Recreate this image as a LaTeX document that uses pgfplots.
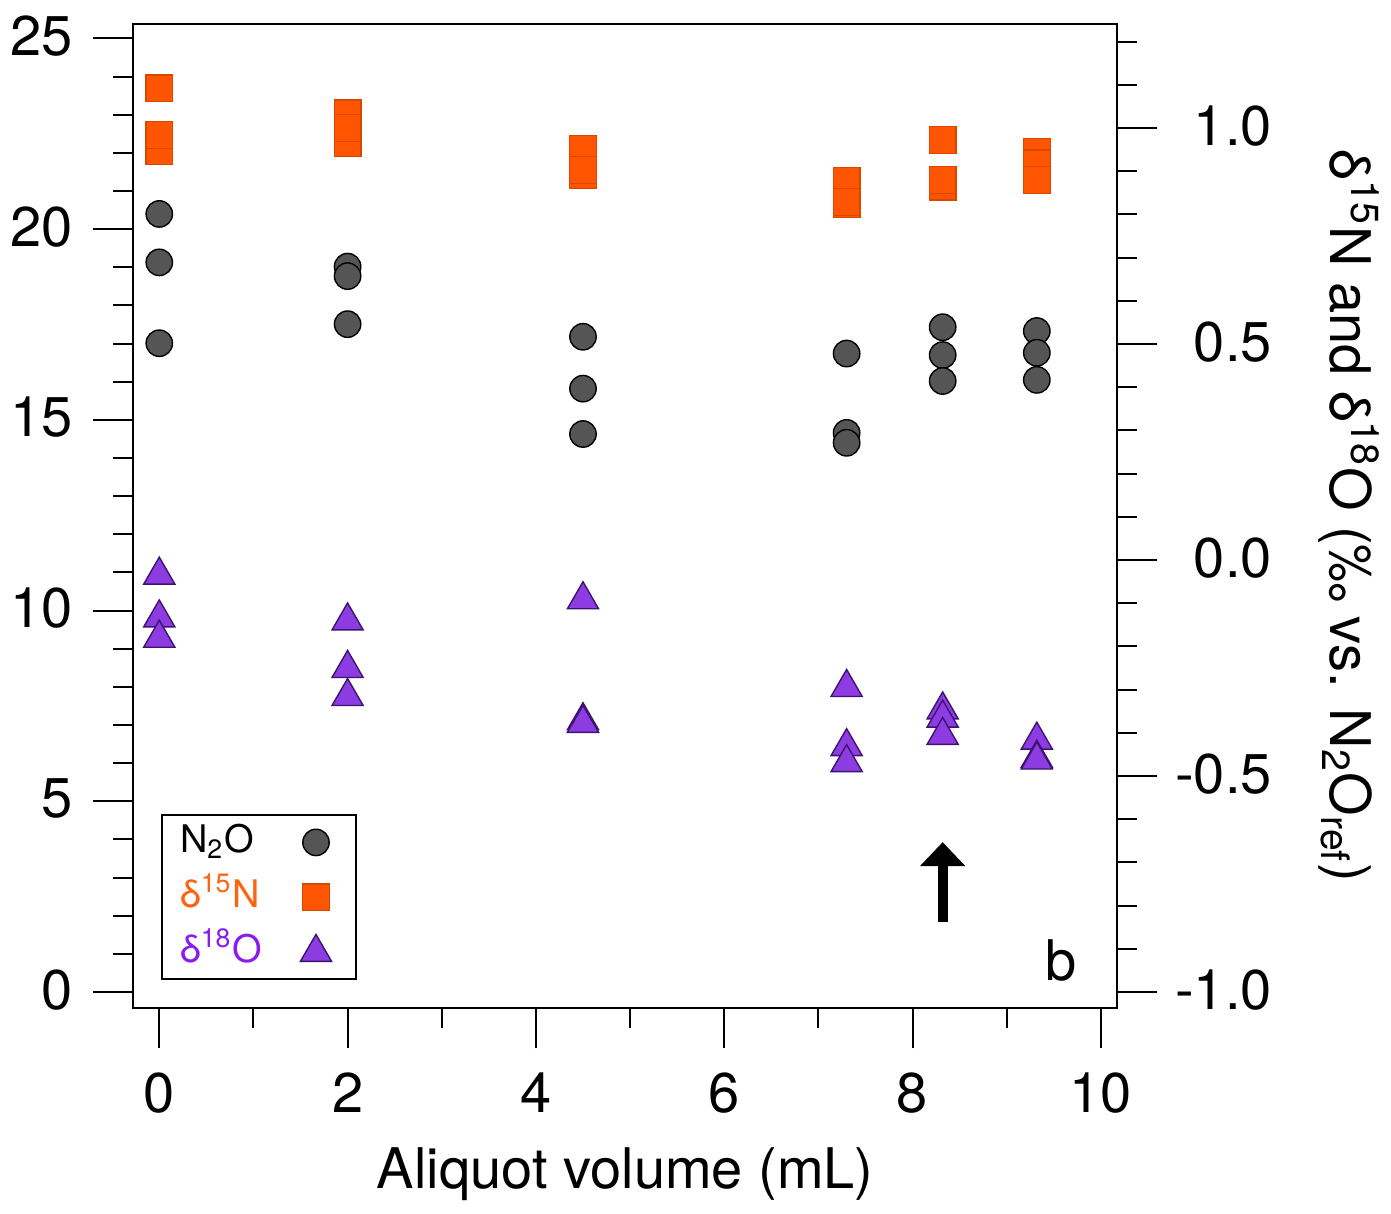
\documentclass[border=0pt]{standalone}
\usepackage{fontspec}
\setmainfont{TeX Gyre Heros}
\usepackage{pgfplots}
\usepackage{pgfplotstable}
\pgfplotsset{compat=1.18}
\usetikzlibrary{arrows.meta}

\definecolor{circfill}{HTML}{555555}
\definecolor{sqfill}{HTML}{FF5500}
\definecolor{sqedge}{HTML}{D94800}
\definecolor{trifill}{HTML}{8C3CE0}
\definecolor{triedge}{HTML}{3C1470}
\definecolor{txtorange}{HTML}{FF6210}
\definecolor{txtpurple}{HTML}{8A1CF0}

% N2O (left axis)
\pgfplotstableread{
x y
0 20.40
0 19.13
0 17.01
2 19.02
2 18.77
2 17.51
4.5 17.18
4.5 15.82
4.5 14.63
7.3 16.74
7.3 14.66
7.3 14.40
8.32 17.43
8.32 16.70
8.32 16.02
9.32 17.33
9.32 16.76
9.32 16.05
}\ntwoo

% delta 15N (right axis)
\pgfplotstableread{
x y
0 1.092
0 0.947
0 0.984
2 1.034
2 0.965
2 1.000
4.5 0.951
4.5 0.891
4.5 0.903
7.3 0.877
7.3 0.823
7.3 0.829
8.32 0.972
8.32 0.864
8.32 0.880
9.32 0.945
9.32 0.918
9.32 0.880
}\dN

% delta 18O (right axis)
\pgfplotstableread{
x y
0 -0.035
0 -0.134
0 -0.181
2 -0.141
2 -0.251
2 -0.316
4.5 -0.092
4.5 -0.372
4.5 -0.378
7.3 -0.295
7.3 -0.432
7.3 -0.469
8.32 -0.347
8.32 -0.366
8.32 -0.406
9.32 -0.417
9.32 -0.459
9.32 -0.463
}\dO

\pgfplotsset{
  common/.style={
    scale only axis, width=245.9pt, height=246.1pt,
    xmin=-0.274, xmax=10.172,
    tick align=outside,
    major tick length=10pt, minor tick length=5pt,
    axis line style={line width=0.5pt},
    every tick/.style={black, line width=0.5pt},
    tick label style={font=\fontsize{14}{16}\selectfont},
    /pgf/number format/assume math mode=true,
  },
}

\begin{document}
\begin{tikzpicture}
\begin{axis}[
  common,
  name=ax1,
  ymin=-0.427, ymax=25.38,
  xtick={0,2,4,6,8,10}, minor xtick={1,3,5,7,9},
  ytick={0,5,10,15,20,25}, minor ytick={0,1,...,25},
  xtick pos=left, ytick pos=left,
  yticklabel style={xshift=-1.6pt, yshift=0.6pt},
  xticklabel style={yshift=-2.5pt},
  xlabel={Aliquot volume (mL)},
  every axis x label/.style={at={(0.5,0)}, anchor=base, yshift=-45pt, font=\fontsize{14}{16}\selectfont},
  clip=false,
]
\addplot[only marks, mark=*, mark size=3.3pt, mark options={fill=circfill, draw=black, line width=0.35pt}] table[x=x,y=y] {\ntwoo};
\draw[line width=2.5pt, -{Triangle[length=6pt, width=11pt]}] (axis cs:8.32,1.84) -- (axis cs:8.32,3.93);
\node[anchor=base, font=\fontsize{14}{16}\selectfont, inner sep=0pt] at (axis cs:9.577,0.315) {b};
\end{axis}

\begin{axis}[
  common,
  ymin=-1.0377, ymax=1.2407,
  axis x line=none,
  axis y line*=right,
  ytick={-1,-0.5,0,0.5,1},
  minor ytick={-1,-0.9,-0.8,-0.7,-0.6,-0.5,-0.4,-0.3,-0.2,-0.1,0,0.1,0.2,0.3,0.4,0.5,0.6,0.7,0.8,0.9,1.0,1.1,1.2},
  yticklabel style={anchor=east, xshift=32.2pt, yshift=0.5pt, /pgf/number format/.cd, fixed, fixed zerofill, precision=1},
  ylabel={δ\textsuperscript{15}N and δ\textsuperscript{18}O (‰ vs. N\textsubscript{2}O\textsubscript{ref})},
  every axis y label/.style={at={(1.2359,0.5)}, anchor=center, rotate=-90, font=\fontsize{14}{16}\selectfont},
  legend plot pos=right,
  legend cell align=left,
  legend image code/.code={\path (0pt,0pt) (10.5pt,0pt); \draw[mark repeat=2, mark phase=2, #1] plot coordinates {(0pt,0pt) (5.25pt,0pt) (10.5pt,0pt)};},
  legend style={at={(0.028,0.197)}, anchor=north west, draw=black, line width=0.5pt,
    inner xsep=4.5pt, inner ysep=2.25pt, row sep=4.75pt,
    font=\fontsize{9.5}{11}\selectfont,
    nodes={inner sep=0pt, text height=7pt, text depth=2pt},
    /tikz/every odd column/.style={column sep=8pt}},
  clip=false,
]
\addlegendimage{only marks, mark=*, mark size=3.3pt, mark options={fill=circfill, draw=black, line width=0.35pt}}
\addlegendentry{N\textsubscript{2}O}
\addplot[only marks, mark=square*, mark size=3.33pt, mark options={fill=sqfill, draw=sqedge, line width=0.3pt}] table[x=x,y=y] {\dN};
\addlegendentry{\textcolor{txtorange}{δ\textsuperscript{15}N}}
\addplot[only marks, mark=triangle*, mark size=4.5pt, mark options={fill=trifill, draw=triedge, line width=0.35pt}] table[x=x,y=y] {\dO};
\addlegendentry{\textcolor{txtpurple}{δ\textsuperscript{18}O}}
\end{axis}
\pgfresetboundingbox
\path ([shift={(-33.375pt,-51.175pt)}]ax1.south west) rectangle ([shift={(68.5pt,6pt)}]ax1.north east);
\end{tikzpicture}
\end{document}
